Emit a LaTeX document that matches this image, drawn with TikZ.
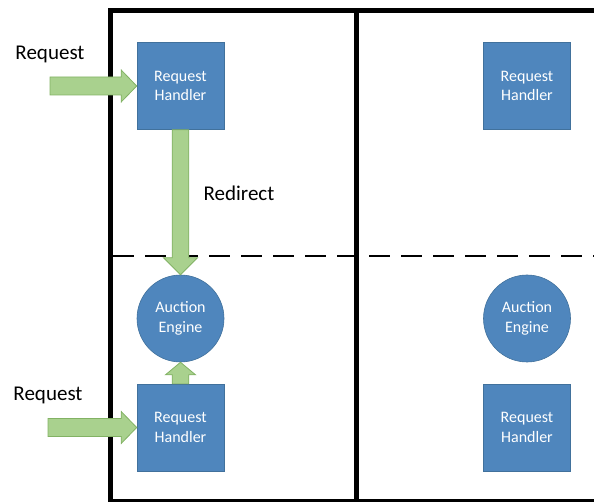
\documentclass[tikz,border=0pt]{standalone}
\usepackage{fontspec}
\setmainfont{Carlito}
\usetikzlibrary{calc}
\definecolor{boxblue}{RGB}{79,134,189}
\definecolor{boxedge}{RGB}{65,113,156}
\definecolor{arrfill}{RGB}{169,209,142}
\definecolor{arredge}{RGB}{130,178,100}
\begin{document}
\begin{tikzpicture}[x=1pt,y=-1pt,
  handler/.style={draw=boxedge, line width=0.6pt, fill=boxblue, minimum width=87pt, minimum height=87pt, inner sep=0pt, align=center, text=white, font=\fontsize{16}{19.5}\selectfont},
  engine/.style={circle, draw=boxedge, line width=0.6pt, fill=boxblue, minimum size=87pt, inner sep=0pt, align=center, text=white, font=\fontsize{16}{19.5}\selectfont},
  lbl/.style={font=\fontsize{21}{25}\selectfont, text=black, inner sep=0pt},
  frameline/.style={line width=5pt, black, line join=miter},
  divider/.style={line width=1.3pt, black, dash pattern=on 21pt off 11pt},
  blockarrow/.style={fill=arrfill, draw=arredge, line width=0.8pt, line join=miter}]
\useasboundingbox (0,0) rectangle (594,502);
% dashed divider
\draw[divider] (113,256) -- (594,256);
% nodes
\node[handler] (h1) at (180.5,86) {Request\\Handler};
\node[handler] (h2) at (527,86) {Request\\Handler};
\node[handler] (h3) at (180.5,427.5) {Request\\Handler};
\node[handler] (h4) at (527,427.5) {Request\\Handler};
\node[engine] (e1) at (180.5,318.5) {Auction\\Engine};
\node[engine] (e2) at (527,318.5) {Auction\\Engine};
% labels
\node[lbl] (r1) at (50,54) {Request};
\node[lbl] (r2) at (48,395) {Request};
\node[lbl] (rd) at (239,193) {Redirect};
% frame
\draw[frameline] (110.5,504) -- (110.5,10.5) -- (594,10.5);
\draw[frameline] (356,10.5) -- (356,504);
\draw[frameline] (110.5,501) -- (594,501);
% request arrows
\coordinate (t1) at (50,86);
\coordinate (t2) at (48,427.5);
\draw[blockarrow] ($(t1)+(0,-9)$) -- ($(h1.west)+(-15.5,-9)$) -- ($(h1.west)+(-15.5,-16)$) -- (h1.west)
  -- ($(h1.west)+(-15.5,16)$) -- ($(h1.west)+(-15.5,9)$) -- ($(t1)+(0,9)$) -- cycle;
\draw[blockarrow] ($(t2)+(0,-9)$) -- ($(h3.west)+(-15.5,-9)$) -- ($(h3.west)+(-15.5,-16)$) -- (h3.west)
  -- ($(h3.west)+(-15.5,16)$) -- ($(h3.west)+(-15.5,9)$) -- ($(t2)+(0,9)$) -- cycle;
% redirect arrow
\draw[blockarrow] ($(h1.south)+(-8.3,0)$) -- ($(e1.north)+(-8.3,-17)$) -- ($(e1.north)+(-17,-17)$) -- (e1.north)
  -- ($(e1.north)+(17,-17)$) -- ($(e1.north)+(8.3,-17)$) -- ($(h1.south)+(8.3,0)$) -- cycle;
% up arrow
\draw[blockarrow] ($(h3.north)+(-8.3,0)$) -- ($(e1.south)+(-8.3,12.5)$) -- ($(e1.south)+(-15,12.5)$) -- (e1.south)
  -- ($(e1.south)+(15,12.5)$) -- ($(e1.south)+(8.3,12.5)$) -- ($(h3.north)+(8.3,0)$) -- cycle;
\end{tikzpicture}
\end{document}
